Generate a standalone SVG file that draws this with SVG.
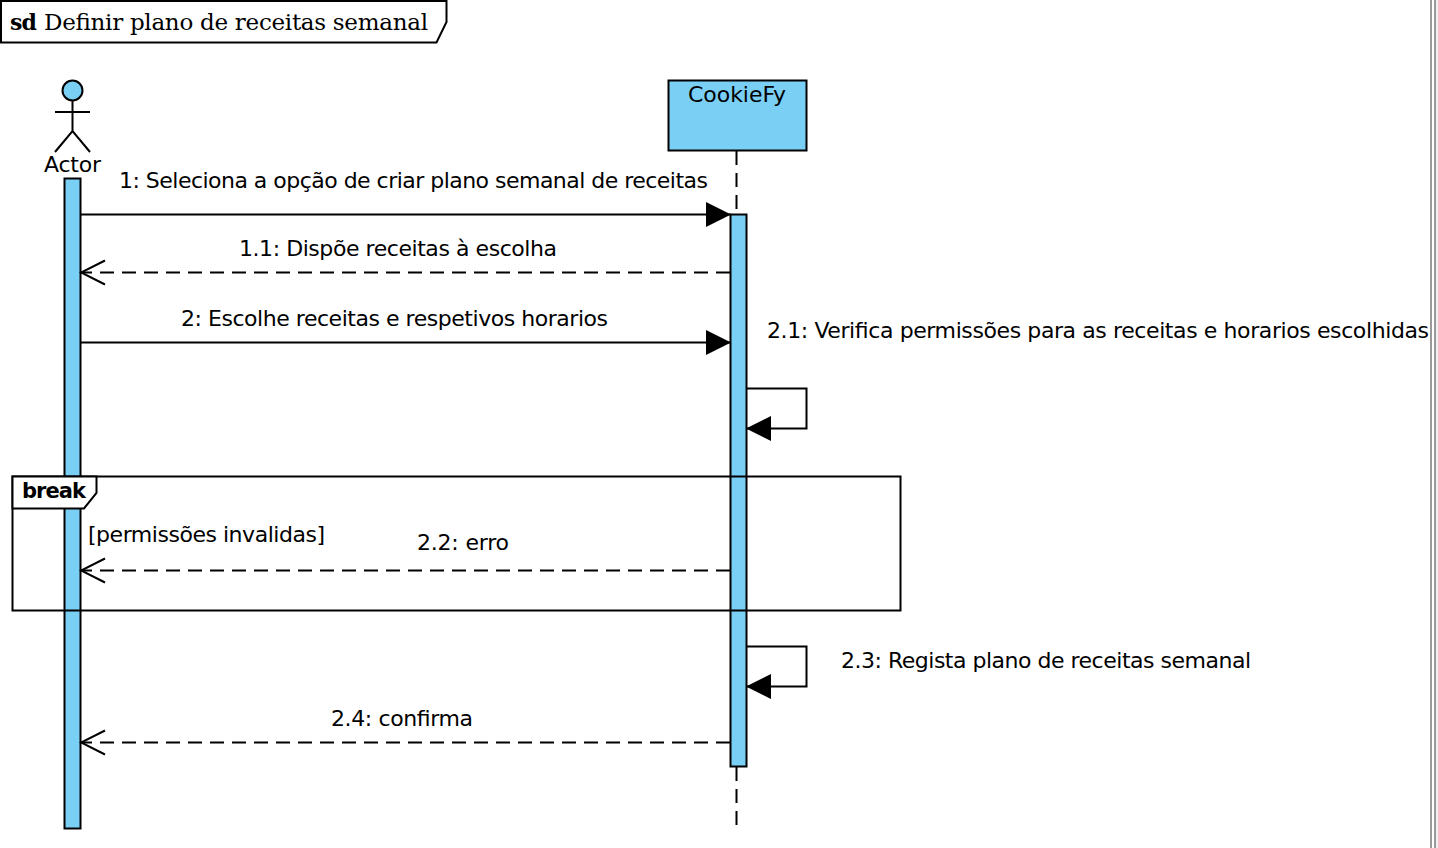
<svg xmlns="http://www.w3.org/2000/svg" width="1438" height="848" viewBox="0 0 1438 848">
<style>
.l{fill:none;stroke:#000;stroke-width:2}
.d{fill:none;stroke:#000;stroke-width:2;stroke-dasharray:14 8}
.b{fill:#7acff5;stroke:#000;stroke-width:2}
.f{fill:#fff;stroke:#000;stroke-width:2}
text{font-family:"DejaVu Sans","Liberation Sans",sans-serif;font-size:22px;fill:#000}
.t{font-family:"DejaVu Serif","Liberation Serif",serif;font-size:23px}
.s{font-size:22px;font-weight:bold}
.k{font-size:21px;font-weight:bold}
</style>
<defs>
<marker id="fa" markerUnits="userSpaceOnUse" markerWidth="28" markerHeight="28" refX="26" refY="13" orient="auto"><path d="M1 0.500 L26 13 L1 25.500 Z" fill="#000"/></marker>
<marker id="oa" markerUnits="userSpaceOnUse" markerWidth="28" markerHeight="28" refX="26" refY="13" orient="auto"><path d="M2 1 L26 13 L2 25" fill="none" stroke="#000" stroke-width="2"/></marker>
</defs>
<rect width="1438" height="848" fill="#fff"/>
<g id="window-edge"><rect x="1430" y="0" width="2" height="848" fill="#999"/><rect x="1434" y="0" width="2" height="848" fill="#999"/><rect x="1436" y="0" width="2" height="848" fill="#eee"/></g>
<g id="frame"><path class="f" d="M1 1 H446.500 V22 L436.500 42.500 H1 Z"/><text class="t s" x="10" y="30" textLength="27">sd</text><text class="t" x="44" y="30" textLength="384">Definir plano de receitas semanal</text></g>
<g id="actor-lifeline"><rect class="b" x="64.500" y="178.500" width="16" height="650"/></g>
<g id="cookiefy">
<path class="d" d="M736.500 151 V214"/><path class="d" d="M736.500 767 V828"/>
<rect class="b" x="668.500" y="80.500" width="138" height="70"/>
<text x="737" y="102" text-anchor="middle" textLength="98">CookieFy</text>
<rect class="b" x="730.500" y="214.500" width="16" height="552"/>
</g>
<g id="actor">
<circle class="b" cx="72.500" cy="90.500" r="10"/>
<path class="l" d="M72.500 101 V131 M55 112 H90 M55 152 L72.500 131 L90 152"/>
<text x="72.500" y="172" text-anchor="middle" textLength="57">Actor</text>
</g>
<g id="break">
<rect x="12.500" y="476.500" width="888" height="134" fill="none" stroke="#000" stroke-width="2"/>
<path class="f" d="M12.500 476.500 H96.500 V493 L84 508.500 H12.500 Z"/>
<text class="k" x="22" y="498" textLength="64">break</text>
<text x="88" y="542" textLength="237">[permissões invalidas]</text>
</g>
<g id="connectors">
<path class="l" d="M81 214.500 H731" marker-end="url(#fa)"/>
<path class="d" d="M730 272.500 H81" marker-end="url(#oa)"/>
<path class="l" d="M81 342.500 H731" marker-end="url(#fa)"/>
<path class="l" d="M747 388.500 H806.500 V428.500 H746" marker-end="url(#fa)"/>
<path class="d" d="M730 570.500 H81" marker-end="url(#oa)"/>
<path class="l" d="M747 646.500 H806.500 V686.500 H746" marker-end="url(#fa)"/>
<path class="d" d="M730 742.500 H81" marker-end="url(#oa)"/>
</g>
<g id="labels">
<text x="119" y="188" textLength="589">1: Seleciona a opção de criar plano semanal de receitas</text>
<text x="239" y="256" textLength="318">1.1: Dispõe receitas à escolha</text>
<text x="181" y="326" textLength="427">2: Escolhe receitas e respetivos horarios</text>
<text x="767" y="338" textLength="662">2.1: Verifica permissões para as receitas e horarios escolhidas</text>
<text x="417" y="550" textLength="92">2.2: erro</text>
<text x="841" y="668" textLength="410">2.3: Regista plano de receitas semanal</text>
<text x="331" y="726" textLength="142">2.4: confirma</text>
</g>
</svg>
